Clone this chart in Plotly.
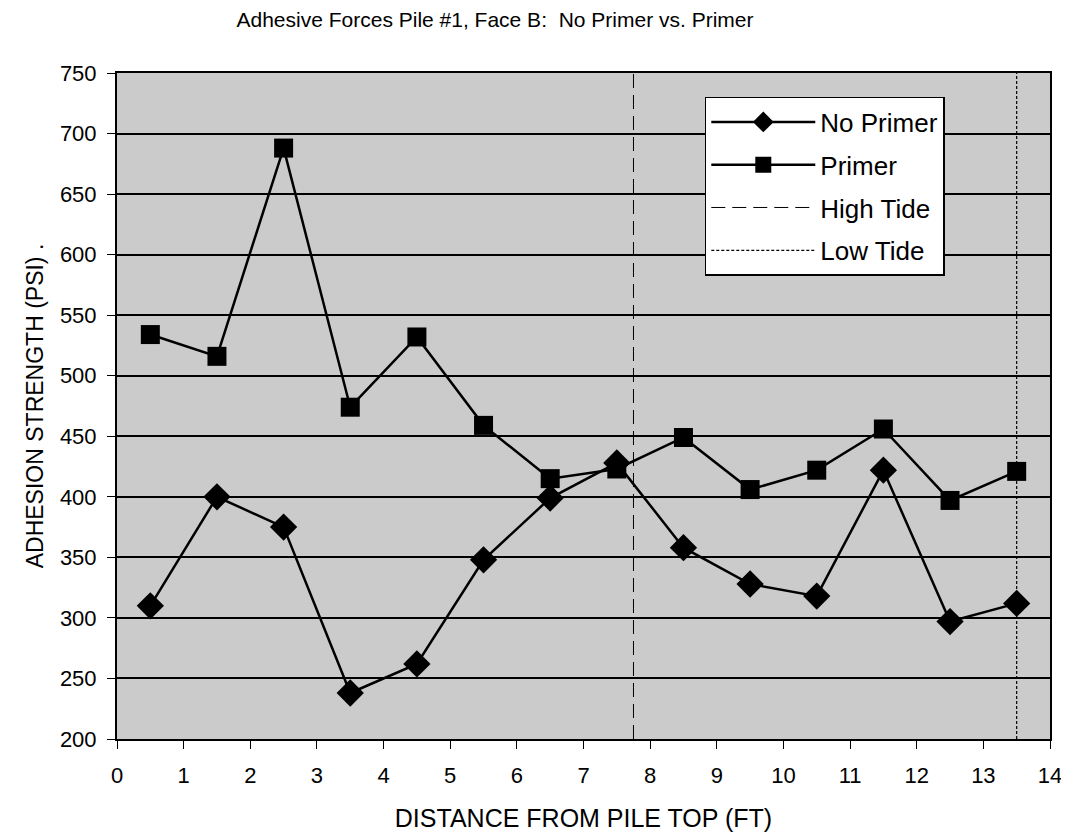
import plotly.graph_objects as go

# distance from pile top (ft)
dist = [0.5, 1.5, 2.5, 3.5, 4.5, 5.5, 6.5, 7.5, 8.5, 9.5, 10.5, 11.5, 12.5, 13.5]
no_primer = [310, 400, 375, 238, 262, 348, 399, 428, 358, 328, 318, 422, 297, 312]
primer = [534, 516, 688, 474, 532, 459, 415, 423, 449, 406, 422, 456, 397, 421]

high_tide = 7.75
low_tide = 13.5
y_range = [200, 750]

fnt = "Liberation Sans, Arial, sans-serif"

fig = go.Figure()

fig.add_trace(go.Scatter(x=dist, y=no_primer, mode="lines+markers", name="No Primer",
                         legendgroup="a",
                         line=dict(color="black", width=2.5),
                         marker=dict(symbol="diamond", size=21, color="black")))
fig.add_trace(go.Scatter(x=dist, y=primer, mode="lines+markers", name="Primer",
                         legendgroup="b",
                         line=dict(color="black", width=2.5),
                         marker=dict(symbol="square", size=19, color="black")))
fig.add_trace(go.Scatter(x=[high_tide, high_tide], y=y_range, mode="lines", name="High Tide",
                         legendgroup="c",
                         line=dict(color="black", width=1, dash="14px,7px")))
fig.add_trace(go.Scatter(x=[low_tide, low_tide], y=y_range, mode="lines", name="Low Tide",
                         legendgroup="d",
                         line=dict(color="black", width=1.2, dash="3px,2px")))

fig.update_layout(
    width=1061, height=824,
    margin=dict(l=109, r=19, t=65, b=93),
    paper_bgcolor="white",
    plot_bgcolor="#cbcbcb",
    font=dict(family=fnt, color="black"),
    title=dict(text="Adhesive Forces Pile #1, Face B:  No Primer vs. Primer",
               x=0.459, xref="container", xanchor="center", y=0.986, yanchor="middle",
               font=dict(size=21)),
    legend=dict(x=0.63, y=0.964, xanchor="left", yanchor="top",
                bgcolor="white", bordercolor="black", borderwidth=1.5,
                font=dict(size=26), itemwidth=104, tracegroupgap=6,
                traceorder="grouped"),
    showlegend=True,
)

fig.update_xaxes(range=[0, 14], dtick=1, tick0=0, showgrid=False, zeroline=False,
                 showline=True, linecolor="black", linewidth=2, mirror=True,
                 ticks="outside", ticklen=8, tickcolor="black", automargin=False,
                 tickfont=dict(size=22), ticklabelstandoff=8, ticklabeloverflow="allow",
                 title=dict(text="DISTANCE FROM PILE TOP (FT)", font=dict(size=25), standoff=22))
fig.update_yaxes(range=y_range, dtick=50, showgrid=True, gridcolor="black", gridwidth=1.8,
                 zeroline=False, showline=True, linecolor="black", linewidth=2, mirror=True,
                 ticks="outside", ticklen=8, tickcolor="black", automargin=False,
                 tickfont=dict(size=22), ticklabelstandoff=6,
                 title=dict(text="ADHESION STRENGTH (PSI) .", font=dict(size=23), standoff=10))

fig.write_html("out.html")
